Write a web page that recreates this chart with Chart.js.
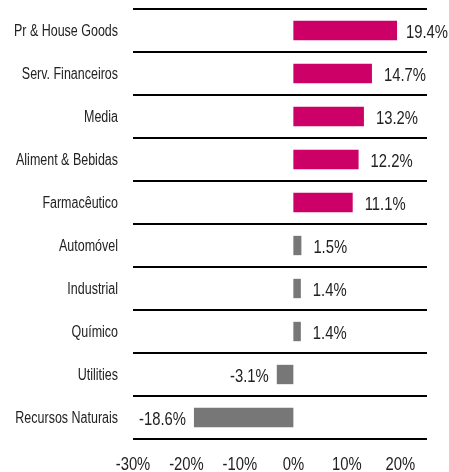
<!DOCTYPE html>
<html>
<head>
<meta charset="utf-8">
<script src="https://cdn.jsdelivr.net/npm/chart.js@4.4.1/dist/chart.umd.min.js"></script>
<style>
  html, body { margin: 0; padding: 0; background: #fff; }
  #wrap { width: 449px; height: 472px; position: relative; }
</style>
</head>
<body>
<div id="wrap"><canvas id="chart"></canvas></div>
<script>
(() => {
  'use strict';

  // sector names and returns (%)
  const SECTORS = [
    'Pr & House Goods', 'Serv. Financeiros', 'Media', 'Aliment & Bebidas', 'Farmacêutico',
    'Automóvel', 'Industrial', 'Químico', 'Utilities', 'Recursos Naturais',
  ];
  const RETURNS = [19.4, 14.7, 13.2, 12.2, 11.1, 1.5, 1.4, 1.4, -3.1, -18.6];

  // x axis range and tick labels
  const X_MIN = -30;
  const X_MAX = 25;
  const X_TICKS = [-30, -20, -10, 0, 10, 20];

  // the top five are highlighted
  const HIGHLIGHT_COUNT = 5;
  const PINK = '#cc0066';
  const GREY = '#777777';
  const TEXT = '#222';
  const FONT = '"Liberation Sans", Arial, sans-serif';
  // no narrow face installed, so squeeze the regular one
  const NARROW = 0.78;

  const narrowText = (ctx, txt, x, y, align) => {
    ctx.save();
    ctx.translate(x, y);
    ctx.scale(NARROW, 1);
    ctx.textAlign = align;
    ctx.fillText(txt, 0, 0);
    ctx.restore();
  };

  // axis labels + value labels, placed with the chart's own scales
  const narrowLabels = {
    id: 'narrowLabels',
    afterDraw(chart) {
      const ctx = chart.ctx;
      const xs = chart.scales.x, ys = chart.scales.y;
      ctx.save();
      ctx.fillStyle = TEXT;
      ctx.textBaseline = 'middle';

      // category labels
      ctx.font = '16px ' + FONT;
      SECTORS.forEach((s, i) => {
        narrowText(ctx, s, ys.right - 15, ys.getPixelForTick(i) + 1, 'right');
      });

      // x tick labels
      ctx.font = '19px ' + FONT;
      X_TICKS.forEach((v) => {
        narrowText(ctx, v + '%', xs.getPixelForValue(v), 465, 'center');
      });

      // value next to every bar
      chart.getDatasetMeta(0).data.forEach((bar, i) => {
        const v = RETURNS[i];
        const txt = v.toFixed(1) + '%';
        const w = ctx.measureText(txt).width * NARROW;
        if (v >= 0) {
          narrowText(ctx, txt, Math.min(bar.x + 12, chart.width - w - 1), bar.y + 2, 'left');
        } else {
          narrowText(ctx, txt, bar.x - 8, bar.y + 2, 'right');
        }
      });
      ctx.restore();
    },
  };

  new Chart(document.getElementById('chart'), {
    type: 'bar',
    data: {
      labels: SECTORS,
      datasets: [{
        data: RETURNS,
        backgroundColor: RETURNS.map((v, i) => i < HIGHLIGHT_COUNT ? PINK : GREY),
        barPercentage: 0.9,
        categoryPercentage: 0.5,
      }],
    },
    options: {
      indexAxis: 'y',
      responsive: true,
      maintainAspectRatio: false,
      animation: false,
      layout: { padding: { top: 9, right: 22, left: 0, bottom: 0 } },

      scales: {
        x: {
          min: X_MIN,
          max: X_MAX,
          grid: { display: false, drawTicks: false },
          border: { display: false },
          ticks: { display: false },
          afterBuildTicks: (scale) => {
            scale.ticks = X_TICKS.map((v) => ({ value: v }));
          },
          afterFit: (scale) => { scale.height = 33; },
        },

        y: {
          grid: { color: '#000', lineWidth: 2, drawTicks: false, offset: true },
          border: { display: false },
          ticks: { display: false },
          afterFit: (scale) => { scale.width = 133; },
        },
      },

      plugins: {
        legend: { display: false },
        tooltip: { enabled: false },
      },
    },
    plugins: [narrowLabels],
  });
})();
</script>
</body>
</html>
